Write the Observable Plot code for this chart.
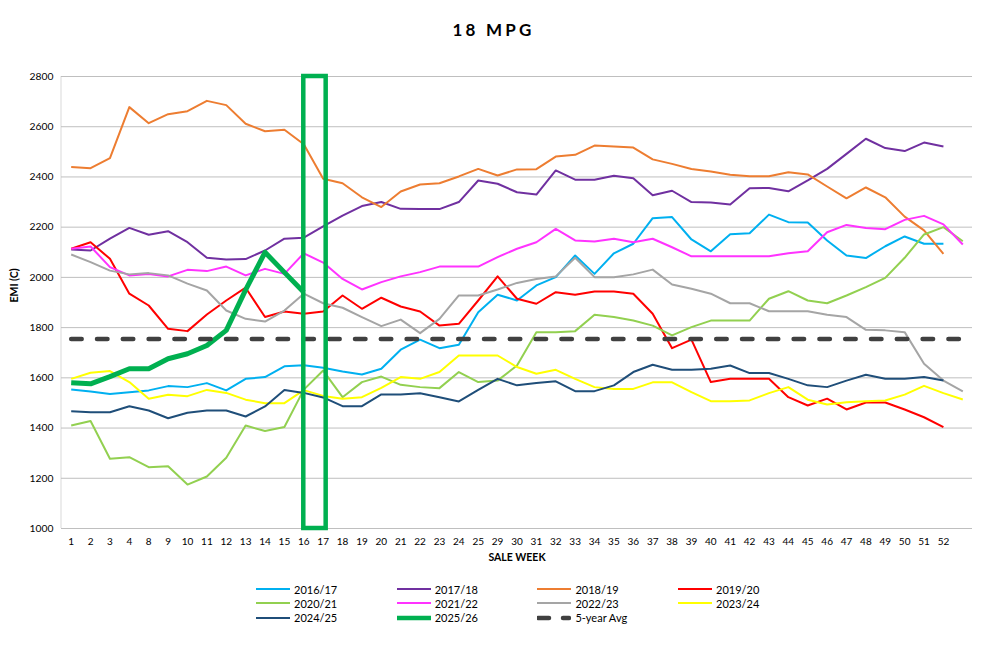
<!DOCTYPE html>
<html><head><meta charset="utf-8">
<script src="https://cdn.jsdelivr.net/npm/d3@7"></script>
<script src="https://cdn.jsdelivr.net/npm/@observablehq/plot@0.6"></script>
<style>
body{margin:0;background:#fff;font-family:Lato,sans-serif;}
#title{height:56px;line-height:60px;text-align:center;font-weight:bold;font-size:17px;letter-spacing:3.2px;color:#000;padding-left:0px;box-sizing:border-box;}
#chart svg{display:block;}
#legend{position:relative;width:987px;height:78px;}
.item{position:absolute;display:flex;align-items:center;height:14px;font-size:11px;color:#000;white-space:nowrap;}
.item svg{margin-right:4px;display:block;}
</style></head><body>
<div id="title">18 MPG</div>
<div id="chart"></div>
<div id="legend"></div>
<script>
const weeks = ["1","2","3","4","8","9","10","11","12","13","14","15","16","17","18","19","20","21","22","23","24","25","29","30","31","32","33","34","35","36","37","38","39","40","41","42","43","44","45","46","47","48","49","50","51","52",""];
const yTicks = [1000,1200,1400,1600,1800,2000,2200,2400,2600,2800];

const s2016_17 = [1554,1546,1536,1543,1550,1567,1563,1579,1550,1596,1603,1646,1650,1640,1625,1613,1636,1712,1752,1718,1732,1861,1931,1908,1968,2001,2087,2014,2096,2134,2236,2240,2151,2104,2172,2176,2250,2220,2219,2147,2087,2077,2124,2163,2134,2134,null];
const s2017_18 = [2111,2107,2154,2197,2170,2184,2140,2078,2071,2073,2107,2154,2158,2203,2246,2284,2300,2273,2272,2272,2300,2386,2373,2339,2330,2426,2389,2389,2405,2395,2327,2345,2300,2298,2290,2355,2356,2343,2386,2432,2492,2552,2515,2503,2537,2521,null];
const s2018_19 = [2440,2435,2475,2678,2614,2650,2662,2703,2686,2612,2582,2588,2530,2393,2375,2319,2280,2342,2370,2375,2402,2432,2406,2430,2431,2481,2488,2525,2521,2517,2470,2452,2432,2422,2409,2403,2403,2419,2410,2362,2315,2358,2319,2242,2187,2094,null];
const s2019_20 = [2114,2140,2074,1935,1888,1795,1786,1852,1908,1959,1842,1864,1855,1864,1928,1875,1919,1884,1864,1808,1815,1908,2004,1915,1895,1941,1931,1944,1944,1935,1855,1718,1752,1583,1596,1596,1596,1523,1490,1517,1474,1502,1502,1474,1443,1404,null];
const s2020_21 = [1410,1428,1278,1284,1244,1248,1175,1207,1282,1410,1388,1404,1553,1629,1523,1583,1605,1572,1563,1559,1623,1583,1589,1649,1782,1782,1786,1851,1842,1828,1808,1769,1802,1828,1828,1828,1915,1945,1908,1897,1928,1961,1998,2078,2171,2200,2144];
const s2021_22 = [2114,2123,2041,2008,2013,2004,2030,2025,2043,2008,2034,2014,2096,2059,1994,1952,1981,2004,2021,2043,2043,2043,2081,2114,2140,2193,2147,2143,2154,2140,2154,2120,2084,2084,2084,2084,2084,2096,2104,2180,2209,2197,2192,2229,2245,2211,2131];
const s2022_23 = [2091,2061,2027,2012,2017,2008,1975,1948,1868,1835,1824,1868,1935,1897,1879,1842,1806,1832,1778,1835,1928,1928,1952,1978,1994,2004,2078,2001,2001,2012,2031,1972,1955,1935,1897,1897,1865,1865,1865,1851,1842,1791,1789,1782,1656,1589,1546];
const s2023_24 = [1596,1620,1627,1583,1517,1533,1527,1552,1540,1513,1499,1499,1551,1528,1517,1523,1560,1603,1596,1623,1689,1689,1689,1643,1616,1632,1596,1563,1556,1556,1582,1582,1543,1507,1507,1510,1539,1563,1513,1494,1503,1507,1510,1533,1568,1539,1514];
const s2024_25 = [1467,1463,1463,1487,1470,1439,1461,1470,1470,1446,1486,1552,1540,1522,1487,1487,1534,1534,1539,1523,1506,1552,1596,1570,1579,1586,1547,1547,1570,1623,1652,1632,1632,1636,1649,1619,1619,1596,1570,1563,1589,1612,1596,1596,1603,1589,null];
const s2025_26 = [1580,1576,1605,1636,1636,1676,1696,1729,1789,1950,2100,2020,1941,null,null,null,null,null,null,null,null,null,null,null,null,null,null,null,null,null,null,null,null,null,null,null,null,null,null,null,null,null,null,null,null,null,null];
const fiveYearAvg = [1755,1755,1755,1755,1755,1755,1755,1755,1755,1755,1755,1755,1755,1755,1755,1755,1755,1755,1755,1755,1755,1755,1755,1755,1755,1755,1755,1755,1755,1755,1755,1755,1755,1755,1755,1755,1755,1755,1755,1755,1755,1755,1755,1755,1755,1755,1755];

const seriesNames = ["2016/17","2017/18","2018/19","2019/20","2020/21","2021/22","2022/23","2023/24","2024/25","2025/26","5-year Avg"];
const seriesValues = [s2016_17,s2017_18,s2018_19,s2019_20,s2020_21,s2021_22,s2022_23,s2023_24,s2024_25,s2025_26,fiveYearAvg];
const seriesColors = ["#00B0F0","#7030A0","#ED7D31","#FF0000","#92D050","#FF33FF","#A5A5A5","#FFFF00","#1F4E79","#00B050","#404040"];
const seriesWidths = [2,2,2,2,2,2,2,2,2,5,4.5];
const highlight = [{from:"16", to:"17", lo:1000, hi:2800}];

const rows = (vals) => vals.map((v,i) => ({week: weeks[i], value: v})).filter(d => d.value != null);

const lineMarks = seriesNames.map((name, k) => Plot.line(rows(seriesValues[k]), {
  x: "week", y: "value", stroke: seriesColors[k], strokeWidth: seriesWidths[k],
  strokeLinejoin: "round",
  ...(name === "5-year Avg" ? {strokeDasharray: "10.5,15.3", strokeLinecap: "round"} : {strokeLinecap: "butt"})
}));

const plot = Plot.plot({
  width: 987, height: 514,
  marginLeft: 61, marginRight: 15, marginTop: 20, marginBottom: 42,
  style: {fontFamily: "Lato, sans-serif", fontSize: "10px", color: "#000", background: "#fff"},
  x: {type: "point", domain: weeks, padding: 0.5, round: false},
  y: {domain: [1000, 2800]},
  marks: [
    Plot.gridY(yTicks, {stroke: "#BFBFBF", strokeOpacity: 1, strokeWidth: 1}),
    Plot.axisY(yTicks, {tickSize: 0, tickPadding: 8, label: null, fontSize: 10.3, tickFormat: d => String(d)}),
    Plot.axisX(weeks, {tickSize: 0, tickPadding: 9, label: null, fontSize: 10}),
    Plot.text(["SALE WEEK"], {text: d => d, frameAnchor: "bottom", dy: 32, fontWeight: "bold", fontSize: 10.5}),
    Plot.text(["EMI (C)"], {text: d => d, frameAnchor: "left", dx: -47, rotate: -90, fontWeight: "bold", fontSize: 10.5}),
    ...lineMarks,
    Plot.rect(highlight, {x1: "from", x2: "to", y1: "lo", y2: "hi", fill: "none", stroke: "#00B050", strokeWidth: 4.5, strokeLinejoin: "miter", insetRight: -3})
  ]
});
// left axis line
d3.select(plot).insert("line", ":first-child")
  .attr("x1", 61).attr("x2", 61).attr("y1", 20).attr("y2", 472)
  .attr("stroke", "#D9D9D9").attr("stroke-width", 1);
document.getElementById("chart").appendChild(plot);

// legend
const legend = d3.select("#legend");
seriesNames.forEach((name, k) => {
  const col = k % 4, row = Math.floor(k / 4);
  const item = legend.append("div").attr("class", "item")
    .style("left", (256 + col * 140.7) + "px")
    .style("top", (12 + row * 14.3) + "px");
  const svg = item.append("svg").attr("width", 34).attr("height", 14);
  if (name === "5-year Avg") {
    svg.append("line").attr("x1", 1).attr("x2", 12).attr("y1", 7).attr("y2", 7)
      .attr("stroke", seriesColors[k]).attr("stroke-width", 4.5).attr("stroke-linecap", "round");
    svg.append("line").attr("x1", 26).attr("x2", 32).attr("y1", 7).attr("y2", 7)
      .attr("stroke", seriesColors[k]).attr("stroke-width", 4.5).attr("stroke-linecap", "round");
  } else {
    svg.append("line").attr("x1", 0).attr("x2", 34).attr("y1", 7).attr("y2", 7)
      .attr("stroke", seriesColors[k]).attr("stroke-width", seriesWidths[k] === 5 ? 4.5 : 2)
      .attr("stroke-linecap", seriesWidths[k] === 5 ? "round" : "butt");
  }
  item.append("span").text(name);
});
</script>
</body></html>
